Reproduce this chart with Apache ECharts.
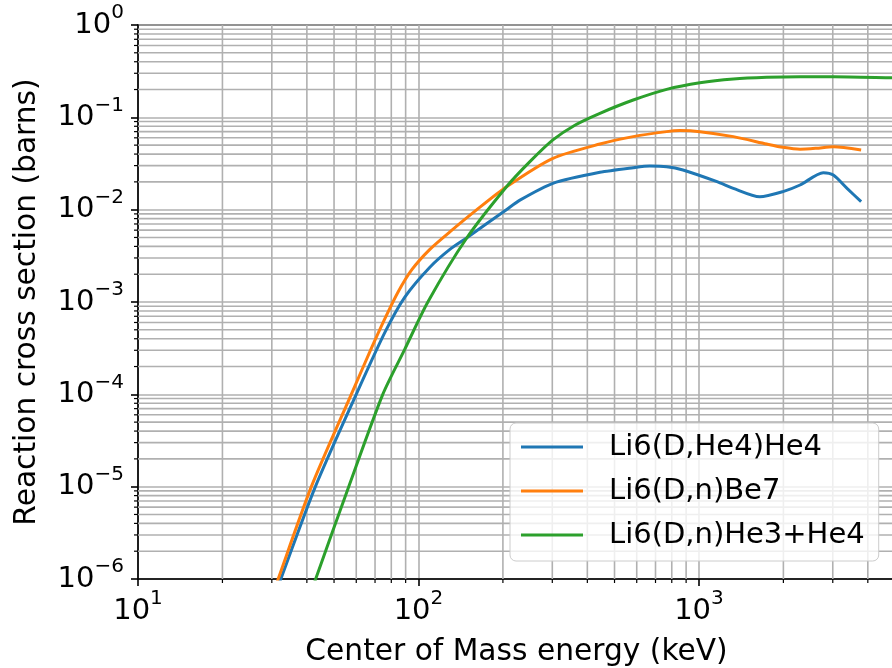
<!DOCTYPE html>
<html>
<head>
<meta charset="utf-8">
<script src="https://cdn.jsdelivr.net/npm/echarts@6/dist/echarts.min.js"></script>
<style>
  html, body { margin: 0; padding: 0; background: #ffffff; }
  #chart { width: 892px; height: 668px; }
</style>
</head>
<body>
<div id="chart"></div>
<script>
// Li6 + D reaction cross sections (barns) versus centre-of-mass energy (keV)
const energyHe4 = [30, 32.3, 42.9, 60.0, 75.9, 89.4, 109.8, 129.4, 148.4, 205.8, 230, 301.5, 443.6, 583, 668, 767, 877, 1160, 1326, 1648, 1994, 2293, 2775, 3013, 3373, 3786];
const sigmaHe4  = [5.2e-7, 1.0e-6, 1.0e-5, 1.0e-4, 4.68e-4, 1.13e-3, 2.38e-3, 3.71e-3, 4.94e-3, 0.0100, 0.0127, 0.0193, 0.0254, 0.0285, 0.0297, 0.0292, 0.0269, 0.0201, 0.0170, 0.0138, 0.0157, 0.0185, 0.0251, 0.0237, 0.0170, 0.0122];

const energyBe7 = [30, 31.6, 41.5, 57.6, 68.2, 75.9, 84.4, 94.7, 109.8, 129.4, 161.5, 206, 301.5, 443.6, 583, 767, 855, 1008, 1326, 1744, 1994, 2293, 2620, 3013, 3786];
const sigmaBe7  = [6.3e-7, 1.0e-6, 1.0e-5, 1.0e-4, 3.24e-4, 6.61e-4, 1.27e-3, 2.24e-3, 3.72e-3, 5.75e-3, 0.0100, 0.0177, 0.0360, 0.0514, 0.0618, 0.0700, 0.0718, 0.0700, 0.0618, 0.0514, 0.0473, 0.0451, 0.0462, 0.0481, 0.0443];

const energyHe3 = [40, 43.0, 56.4, 74.6, 89.4, 108, 148.4, 206, 249.6, 301.5, 361, 443.6, 583, 767, 1008, 1326, 1744, 2293, 3013, 4880, 5600];
const sigmaHe3  = [5.2e-7, 1.0e-6, 1.0e-5, 1.0e-4, 3.09e-4, 1.0e-3, 4.9e-3, 0.0177, 0.0331, 0.0569, 0.0822, 0.1106, 0.154, 0.201, 0.237, 0.260, 0.271, 0.275, 0.275, 0.268, 0.266];

const seriesNames = ['Li6(D,He4)He4', 'Li6(D,n)Be7', 'Li6(D,n)He3+He4'];
const seriesColors = ['#1f77b4', '#ff7f0e', '#2ca02c'];

// axis ranges
const xRange = [10, 5000];
const yRange = [1e-6, 1];

// minor (2..9 x decade) grid positions
const xMinor = [];
for (let d = 10; d < xRange[1]; d *= 10) {
  for (let k = 2; k <= 9; k++) if (k * d < xRange[1]) xMinor.push(k * d);
}
const yMinor = [];
for (let d = 1e-6; d < 0.99; d *= 10) {
  for (let k = 2; k <= 9; k++) yMinor.push(k * d);
}

const FONT = "'DejaVu Sans', sans-serif";
const GRID_GRAY = '#b0b0b0';

function pairs(xs, ys) { return xs.map((x, i) => [x, ys[i]]); }

function powerLabel(v) {
  const e = Math.round(Math.log10(v));
  const s = e < 0 ? '\u2212' + Math.abs(e) : String(e);
  return '{b|10}{s|' + s + '}';
}

const labelRich = {
  b: { fontSize: 29, fontFamily: FONT, color: '#000', lineHeight: 44 },
  s: { fontSize: 20, fontFamily: FONT, color: '#000', verticalAlign: 'top' }
};

function renderMinorX(params, api) {
  const cs = params.coordSys;
  const x = api.coord([api.value(0), 1e-3])[0];
  const yb = cs.y + cs.height;
  return {
    type: 'group',
    children: [
      { type: 'line', shape: { x1: x, y1: cs.y, x2: x, y2: yb }, style: { stroke: GRID_GRAY, lineWidth: 1.6 } },
      { type: 'line', shape: { x1: x, y1: yb, x2: x, y2: yb + 4 }, style: { stroke: '#000', lineWidth: 1.2 } }
    ]
  };
}

function renderMinorY(params, api) {
  const cs = params.coordSys;
  const y = api.coord([100, api.value(1)])[1];
  return {
    type: 'group',
    children: [
      { type: 'line', shape: { x1: cs.x, y1: y, x2: cs.x + cs.width, y2: y }, style: { stroke: GRID_GRAY, lineWidth: 1.6 } },
      { type: 'line', shape: { x1: cs.x - 4, y1: y, x2: cs.x, y2: y }, style: { stroke: '#000', lineWidth: 1.2 } }
    ]
  };
}

const chart = echarts.init(document.getElementById('chart'), null, { renderer: 'canvas' });

const lineSeries = [pairs(energyHe4, sigmaHe4), pairs(energyBe7, sigmaBe7), pairs(energyHe3, sigmaHe3)].map((d, i) => ({
  name: seriesNames[i],
  type: 'line',
  data: d,
  showSymbol: false,
  smooth: 0.25,
  z: 5,
  lineStyle: { width: 3, color: seriesColors[i] },
  itemStyle: { color: seriesColors[i] }
}));

chart.setOption({
  animation: false,
  backgroundColor: '#ffffff',
  grid: {
    left: 138, top: 25, bottom: 89, right: -3,
    outerBoundsMode: 'none', containLabel: false,
    show: true, borderColor: '#000', borderWidth: 1.6, backgroundColor: 'transparent'
  },
  xAxis: {
    type: 'log', logBase: 10, min: xRange[0], max: xRange[1],
    name: 'Center of Mass energy (keV)', nameLocation: 'middle', nameGap: 58,
    nameTextStyle: { fontSize: 29.7, fontFamily: FONT, color: '#000' },
    axisLine: { show: true, lineStyle: { color: '#000', width: 1.6 } },
    axisTick: { show: true, length: 7, lineStyle: { color: '#000', width: 1.6 } },
    axisLabel: { margin: 10, formatter: powerLabel, rich: labelRich, showMaxLabel: false },
    splitLine: { show: true, lineStyle: { color: GRID_GRAY, width: 1.6 } },
    minorTick: { show: false }, minorSplitLine: { show: false }
  },
  yAxis: {
    type: 'log', logBase: 10, min: yRange[0], max: yRange[1],
    name: 'Reaction cross section (barns)', nameLocation: 'middle', nameGap: 96,
    nameTextStyle: { fontSize: 29.7, fontFamily: FONT, color: '#000' },
    axisLine: { show: true, lineStyle: { color: '#000', width: 1.6 } },
    axisTick: { show: true, length: 7, lineStyle: { color: '#000', width: 1.6 } },
    axisLabel: { margin: 14, formatter: powerLabel, rich: labelRich },
    splitLine: { show: true, lineStyle: { color: GRID_GRAY, width: 1.6 } },
    minorTick: { show: false }, minorSplitLine: { show: false }
  },
  legend: {
    orient: 'vertical', left: 510, top: 423,
    padding: [9, 14, 11, 11], itemGap: 14,
    itemWidth: 62, itemHeight: 3, icon: 'rect',
    data: seriesNames,
    textStyle: { fontSize: 29, fontFamily: FONT, color: '#000', lineHeight: 30, padding: [0, 0, 0, 21] },
    backgroundColor: 'rgba(255,255,255,0.8)', borderColor: '#cccccc', borderWidth: 1, borderRadius: 6,
    z: 10
  },
  series: [
    {
      type: 'custom', silent: true, clip: false, z: 1,
      renderItem: renderMinorX,
      encode: { x: 0, y: 1 },
      data: xMinor.map(v => [v, 1e-3])
    },
    {
      type: 'custom', silent: true, clip: false, z: 1,
      renderItem: renderMinorY,
      encode: { x: 0, y: 1 },
      data: yMinor.map(v => [100, v])
    },
    ...lineSeries
  ]
});
</script>
</body>
</html>
